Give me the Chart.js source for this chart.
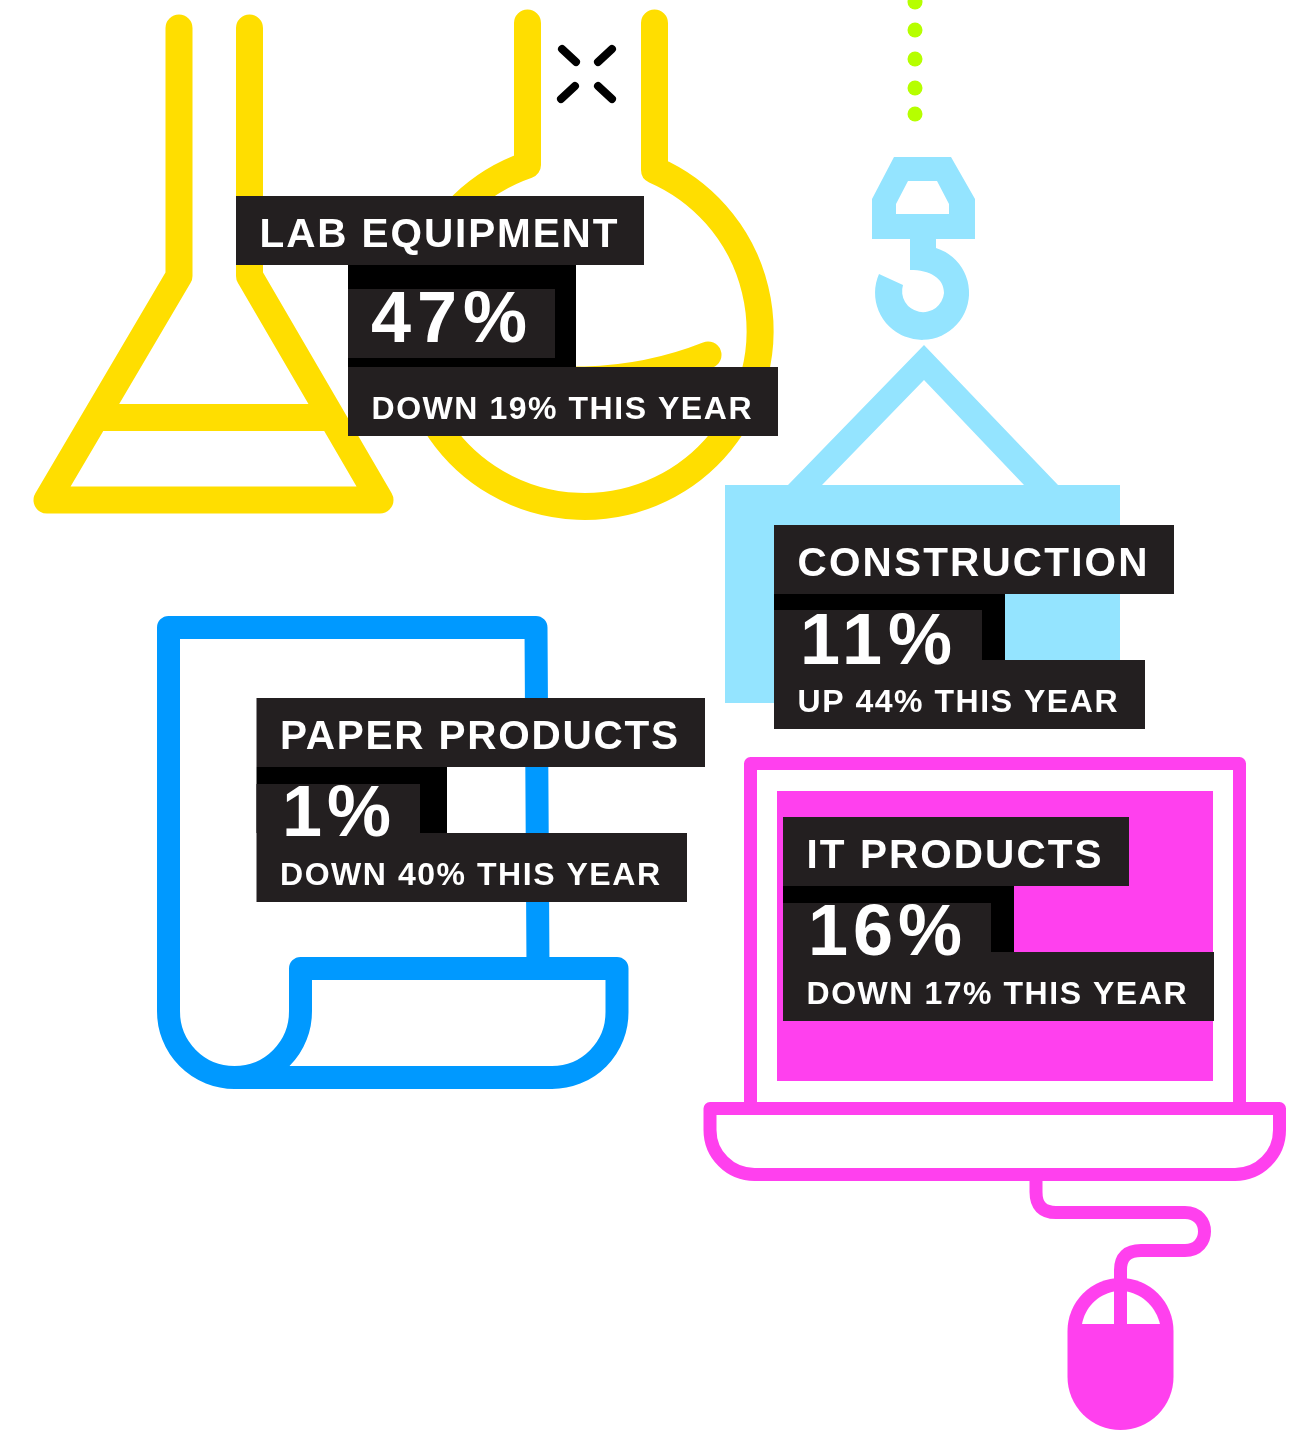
<!DOCTYPE html>
<html><head><meta charset="utf-8">
<style>html,body{margin:0;padding:0;background:#fff}canvas{display:block}</style>
<script src="https://cdn.jsdelivr.net/npm/chart.js@4"></script>
</head><body><canvas id="c" width="1298" height="1441"></canvas>
<script>
// ---- data ----
const categories = ["LAB EQUIPMENT","PAPER PRODUCTS","CONSTRUCTION","IT PRODUCTS"];
const shares     = [47,1,11,16];
const changes    = [19,40,44,17];
const directions = ["DOWN","DOWN","UP","DOWN"];

// ---- layout of each label block ----
const panelX   = [236,256.5,774,783];
const panelY   = [196,698,525,817];
const lowerDx  = [112,0,0,0];
const titleBox = [408,448.5,400,346];
const subBox   = [430,430.5,371,431];
const blackBox = [228,190.5,231,231];
const darkBox  = [207,163.5,208,208];
const blockH   = [102,66,66,66];
const darkTop  = [24,17,16,17];
const darkGap  = [9,0,0,0];
const titleInk = [358,398,350,295];
const pctInk   = [156,109,152,154];
const subInk   = [380,380,320,380];
const pctDx    = [23,25.5,26,25];
const pctBase  = [146,138,139,138];

// ---- palette and icon outlines ----
const YELLOW="#FFDE00", SKY="#94E4FF", BLUE="#0099FF", PINK="#FF40EE", DARK="#231F20", LIME="#B6FF00";
const flaskA="M179 28V276L47 500H380L249.5 276V28M97 417.5H330";
const flaskB="M654.5 23V170A175.5 175.5 0 1 1 527.5 165V23";
const liquid="M708 355Q650 378 585 380H420";
const sparks=["M562 49L576 62","M612 49L598 62","M575 86L561 99","M598 86L612 99"];
const dots=[2,30,59,88,114];
const hook="M894 157H951L975 199V239H936V248A47 47 0 1 1 879 274L903 285A21 21 0 1 0 944 293C944 278 930 270 910 270V239H872V199ZM908 181L896 204V214H949V204L937 181Z";
const sling="M924 345L1058 485H1024L924 380L822 485H788Z";
const paper="M538 968L536 627.5H168.5V1011A66 66 0 0 0 234.5 1077.5H552A65 65 0 0 0 617 1012V968.5H300.5V1011A66 66 0 0 1 234.5 1077.5";
const laptop="M750.5 1108V763.5H1239.5V1108";
const base="M710 1108.5H1279.5V1130A44.5 44.5 0 0 1 1235 1174.5H754.5A44.5 44.5 0 0 1 710 1130Z";
const cable="M1036 1175V1192Q1036 1212.5 1056 1212.5H1185C1211 1212.5 1211 1250.5 1185 1250.5H1141Q1120.5 1250.5 1120.5 1270V1285";
const mouse="M1067.5 1331A53 53 0 0 1 1173.5 1331V1377A53 53 0 0 1 1067.5 1377Z";
const mouseL="M1114 1291.5C1097 1295 1085 1308 1082 1324H1114Z";
const mouseR="M1127 1291.5C1144 1295 1156 1308 1160 1324H1127Z";

function spaced(ctx,text,x,y,font,ink){
  ctx.font=font; ctx.letterSpacing="0px";
  const w=ctx.measureText(text).width;
  ctx.letterSpacing=((ink-w)/(text.length-1)).toFixed(3)+"px";
  ctx.fillText(text,x,y);
  ctx.letterSpacing="0px";
}
function stroke(ctx,d,color,w){
  ctx.strokeStyle=color;ctx.lineWidth=w;ctx.lineJoin="round";ctx.lineCap="round";ctx.stroke(new Path2D(d));
}
function fill(ctx,d,color){ctx.fillStyle=color;ctx.fill(new Path2D(d));}

const iconPlugin={id:"icons",beforeDatasetsDraw(chart){
  const ctx=chart.ctx;ctx.save();
  stroke(ctx,flaskA,YELLOW,27);
  stroke(ctx,flaskB,YELLOW,27);
  stroke(ctx,liquid,YELLOW,27);
  sparks.forEach(d=>stroke(ctx,d,"#000",8));
  ctx.fillStyle=LIME;dots.forEach(y=>{ctx.beginPath();ctx.arc(915,y,7.5,0,Math.PI*2);ctx.fill();});
  ctx.fillStyle=SKY;ctx.fill(new Path2D(hook),"evenodd");
  fill(ctx,sling,SKY);
  ctx.fillRect(725,485,395,218);
  stroke(ctx,paper,BLUE,23);
  ctx.fillStyle=PINK;ctx.fillRect(777,791,436,290);
  stroke(ctx,laptop,PINK,13);
  stroke(ctx,base,PINK,13);
  stroke(ctx,cable,PINK,13);
  fill(ctx,mouse,PINK);
  fill(ctx,mouseL,"#fff");fill(ctx,mouseR,"#fff");
  ctx.restore();
}};
const labelPlugin={id:"labels",afterDatasetsDraw(chart){
  const ctx=chart.ctx,meta=chart.getDatasetMeta(0);ctx.save();
  ctx.textBaseline="alphabetic";ctx.textAlign="left";
  categories.forEach((name,i)=>{
    const p=meta.data[i],x=p.x,y=p.y,lx=x+lowerDx[i],by=y+69,sy=by+blockH[i];
    ctx.fillStyle="#000";ctx.fillRect(lx,by,blackBox[i],blockH[i]);
    ctx.fillStyle=DARK;
    ctx.fillRect(lx,by+darkTop[i],darkBox[i],blockH[i]-darkTop[i]-darkGap[i]);
    ctx.fillRect(x,y,titleBox[i],69);
    ctx.fillRect(lx,sy,subBox[i],69);
    ctx.fillStyle="#fff";
    spaced(ctx,name,x+23.5,y+51,'bold 40.5px "Liberation Sans"',titleInk[i]);
    spaced(ctx,shares[i]+"%",lx+pctDx[i],y+pctBase[i],'bold 72px "Liberation Sans"',pctInk[i]);
    spaced(ctx,directions[i]+" "+changes[i]+"% THIS YEAR",lx+23.5,sy+52,'bold 32px "Liberation Sans"',subInk[i]);
  });
  ctx.restore();
}};
new Chart(document.getElementById("c"),{
  type:"scatter",
  data:{labels:categories,datasets:[{label:"Share",data:categories.map((c,i)=>({x:panelX[i],y:panelY[i],share:shares[i]})),pointRadius:0,pointHoverRadius:0}]},
  options:{responsive:false,animation:false,maintainAspectRatio:false,layout:{padding:0},
    events:[],
    plugins:{legend:{display:false},tooltip:{enabled:false},title:{display:false}},
    scales:{x:{type:"linear",display:false,min:0,max:1298},y:{type:"linear",display:false,min:0,max:1441,reverse:true}}},
  plugins:[iconPlugin,labelPlugin]
});
</script></body></html>
